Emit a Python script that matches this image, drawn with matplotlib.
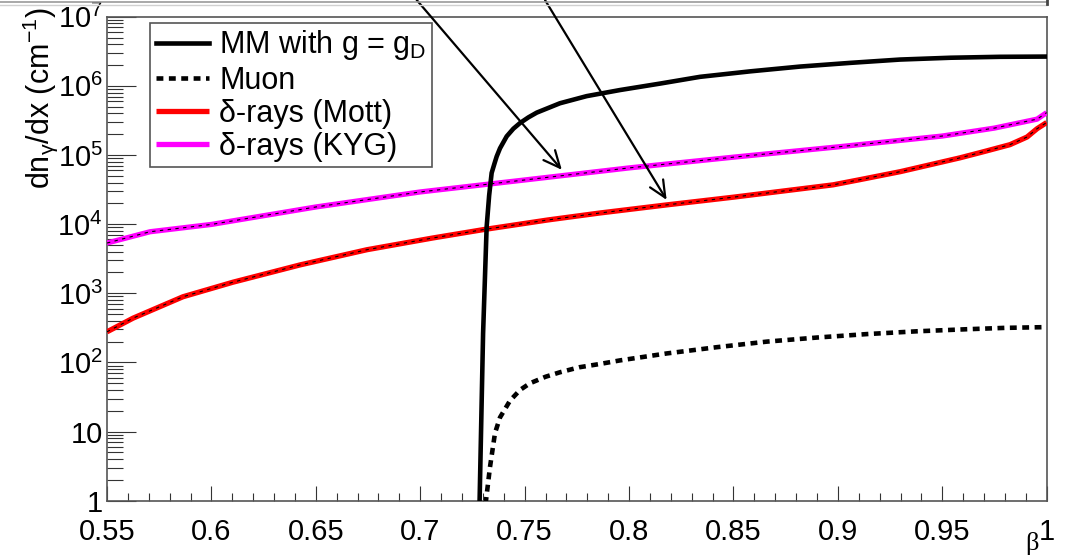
import matplotlib
matplotlib.use("Agg")
import matplotlib.pyplot as plt
from matplotlib.lines import Line2D
from matplotlib.ticker import FixedLocator, FixedFormatter, MultipleLocator, LogLocator, NullFormatter
import numpy as np

plt.rcParams['font.family'] = ['Liberation Sans', 'DejaVu Sans']
plt.rcParams['mathtext.fontset'] = 'custom'
plt.rcParams['mathtext.rm'] = 'Liberation Sans'
plt.rcParams['mathtext.it'] = 'Liberation Sans:italic'
plt.rcParams['mathtext.bf'] = 'Liberation Sans:bold'

# ---- data ----
mm_beta = [0.7284, 0.7301, 0.7318, 0.7330, 0.7342, 0.7356, 0.7366, 0.7382, 0.7414,
           0.7446, 0.7478, 0.7518, 0.7558, 0.7669, 0.7797, 0.7957, 0.8150, 0.8340,
           0.8580, 0.8819, 0.9060, 0.9298, 0.9540, 0.9776, 1.0]
mm_vals = [0.9, 263, 9.1e3, 2.6e4, 5.5e4, 7.6e4, 9.5e4, 1.25e5, 1.86e5,
           2.4e5, 2.9e5, 3.5e5, 4.1e5, 5.6e5, 7.1e5, 8.7e5, 1.08e6, 1.35e6,
           1.62e6, 1.9e6, 2.15e6, 2.4e6, 2.55e6, 2.63e6, 2.65e6]

muon_beta = [0.7313, 0.7334, 0.7358, 0.7382, 0.7430, 0.7478, 0.7526, 0.7600, 0.7669,
             0.7761, 0.7861, 0.7957, 0.8182, 0.8420, 0.8661, 0.8900, 0.9140, 0.9380,
             0.9618, 0.9800, 1.0]
muon_vals = [0.9, 3.06, 9.5, 16, 28, 40, 50, 62, 72,
             85, 95, 107, 135, 166, 200, 229, 257, 282,
             302, 316, 324]

mott_beta = [0.55, 0.5625, 0.5864, 0.6103, 0.6424, 0.6745, 0.7061, 0.7301, 0.7612,
             0.7861, 0.8182, 0.8498, 0.8977, 0.9106, 0.9300, 0.9585, 0.9700, 0.9824,
             0.9906, 0.9954, 1.0]
mott_vals = [277, 437, 891, 1445, 2570, 4266, 6310, 8318, 1.15e4,
             1.45e4, 1.9e4, 2.45e4, 3.7e4, 4.4e4, 5.75e4, 9.1e4, 1.12e5, 1.41e5,
             1.82e5, 2.4e5, 2.95e5]

kyg_beta = [0.55, 0.5706, 0.60, 0.65, 0.70, 0.75, 0.80, 0.85, 0.90,
            0.95, 0.975, 0.99, 0.9954, 1.0]
kyg_vals = [5330, 7760, 9.9e3, 1.77e4, 2.92e4, 4.35e4, 6.5e4, 9.3e4, 1.31e5,
            1.88e5, 2.45e5, 3.05e5, 3.3e5, 4.1e5]

legend_labels = ['MM with g = g$_{\\mathrm{D}}$', 'Muon', 'δ-rays (Mott)', 'δ-rays (KYG)']

xticks = [0.55, 0.6, 0.65, 0.7, 0.75, 0.8, 0.85, 0.9, 0.95, 1.0]
xtick_labels = ['0.55', '0.6', '0.65', '0.7', '0.75', '0.8', '0.85', '0.9', '0.95', '1']
yticks = [1, 10, 1e2, 1e3, 1e4, 1e5, 1e6, 1e7]
ytick_labels = ['1', '10', '$10^{2}$', '$10^{3}$', '$10^{4}$', '$10^{5}$', '$10^{6}$', '$10^{7}$']

# arrow tips in data coordinates (annotation arrows)
arrow_tips = [(0.7678, 6.1e4), (0.8180, 2.24e4)]
arrow_starts_fig = [(416.7 / 1066, 1.0), (545.0 / 1066, 1.0)]

# ---- figure ----
W, H = 1066, 556
fig = plt.figure(figsize=(W / 100, H / 100), dpi=100)
ax_l, ax_r, ax_t, ax_b = 107.0, 1046.7, 16.7, 500.7
ax = fig.add_axes([ax_l / W, 1 - ax_b / H, (ax_r - ax_l) / W, (ax_b - ax_t) / H])

ax.set_xlim(0.55, 1.0)
ax.set_yscale('log')
ax.set_ylim(1, 1e7)

l_kyg, = ax.plot(kyg_beta, kyg_vals, color='#ff00ff', lw=3.8, solid_capstyle='butt', zorder=3)
ax.plot(kyg_beta, kyg_vals, color='black', lw=0.8, ls=(0, (3, 4)), zorder=4)
l_mott, = ax.plot(mott_beta, mott_vals, color='#ff0000', lw=3.8, solid_capstyle='butt', zorder=3)
ax.plot(mott_beta, mott_vals, color='black', lw=0.8, ls=(0, (3, 4)), zorder=4)
l_mm, = ax.plot(mm_beta, mm_vals, color='black', lw=3.3, zorder=5)
l_mu, = ax.plot(muon_beta, muon_vals, color='black', lw=3.3, ls=(0, (1.5, 1.2)), zorder=5)

# axes styling
for s in ax.spines.values():
    s.set_color('#555555')
    s.set_linewidth(1.2)

ax.xaxis.set_major_locator(FixedLocator(xticks))
ax.xaxis.set_major_formatter(FixedFormatter(xtick_labels))
ax.xaxis.set_minor_locator(MultipleLocator(0.01))
ax.yaxis.set_major_locator(FixedLocator(yticks))
ax.yaxis.set_major_formatter(FixedFormatter(ytick_labels))
ax.yaxis.set_minor_locator(LogLocator(base=10, subs=np.arange(2, 10), numticks=20))
ax.yaxis.set_minor_formatter(NullFormatter())

ax.tick_params(axis='x', which='major', direction='in', length=11, width=0.8, color='#333333',
               labelsize=21, pad=12.5, top=False)
ax.tick_params(axis='x', which='minor', direction='in', length=5.5, width=0.8, color='#333333', top=False)
ax.tick_params(axis='y', which='major', direction='in', length=21, width=0.8, color='#333333',
               labelsize=21, pad=3, right=False)
ax.tick_params(axis='y', which='minor', direction='in', length=11.5, width=0.8, color='#333333', right=False)

ax.set_ylabel('dn$_{\\mathrm{γ}}$/dx (cm$^{\\mathrm{-1}}$)', fontsize=22, loc='top')
ax.yaxis.set_label_coords(-0.050, 1.020)
ax.set_xlabel('β', fontsize=19, family=['Liberation Serif', 'DejaVu Serif'], ha='right', va='bottom')
ax.xaxis.set_label_coords(1.0 - 8 / (ax_r - ax_l), -0.113)

leg = ax.legend([l_mm, l_mu, l_mott, l_kyg], legend_labels, loc='upper left',
                bbox_to_anchor=((150 - ax_l) / (ax_r - ax_l), (ax_b - 23) / (ax_b - ax_t)),
                fontsize=22, frameon=True, fancybox=False, framealpha=1,
                edgecolor='#555555', borderaxespad=0, borderpad=0.18,
                handlelength=1.75, handletextpad=0.33, labelspacing=0.1)
leg.get_frame().set_linewidth(1.2)
leg.set_zorder(6)

# annotation arrows coming from above the plot
for (tx, ty), (sx, sy) in zip(arrow_tips, arrow_starts_fig):
    ax.annotate('', xy=(tx, ty), xycoords='data', xytext=(sx, sy), textcoords='figure fraction',
                arrowprops=dict(arrowstyle='->,head_length=1.2,head_width=0.55', color='black', lw=1.6,
                                shrinkA=0, shrinkB=0),
                annotation_clip=False, zorder=7)

# slide frame remnants at the very top
fig.add_artist(Line2D([0, ax_r / W], [1 - 1.5 / H, 1 - 1.5 / H], transform=fig.transFigure,
                      color='#9a9a9a', lw=1.2))
fig.add_artist(Line2D([0, ax_r / W], [1 - 5 / H, 1 - 5 / H], transform=fig.transFigure,
                      color='#d0d0d0', lw=1.0))
fig.add_artist(Line2D([ax_r / W, ax_r / W], [1, 1 - 4 / H], transform=fig.transFigure,
                      color='#444444', lw=2))

fig.savefig('out.png', dpi=100)
